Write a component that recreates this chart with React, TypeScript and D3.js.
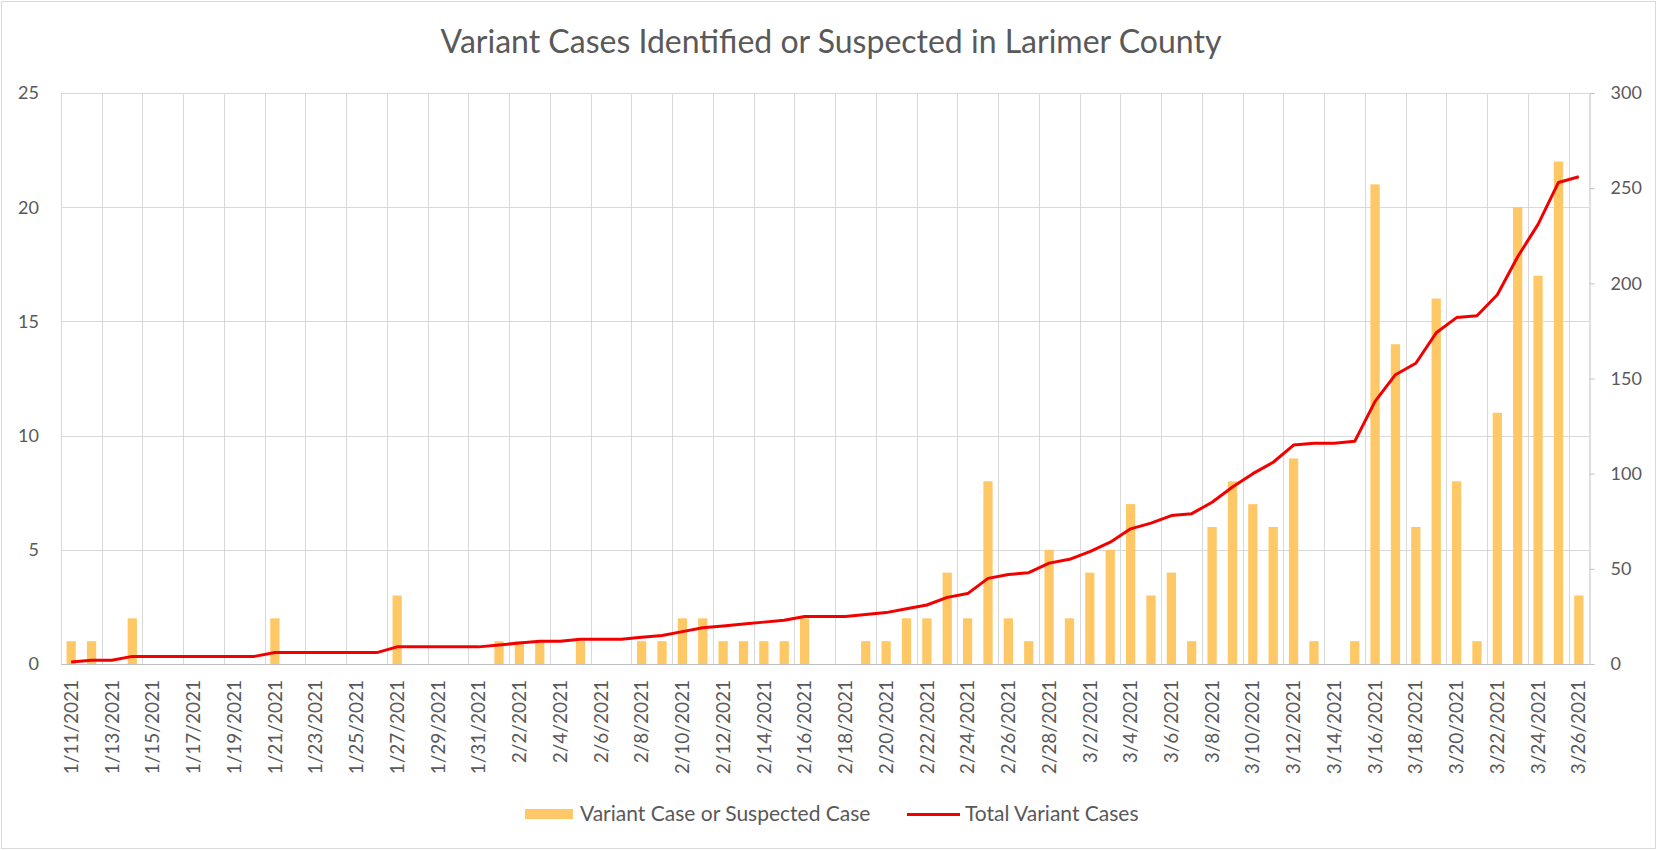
import React, { useEffect, useRef } from 'react';
import * as d3 from 'd3';

const dates = [
  '1/11/2021', '1/12/2021', '1/13/2021', '1/14/2021', '1/15/2021', '1/16/2021', '1/17/2021', '1/18/2021',
  '1/19/2021', '1/20/2021', '1/21/2021', '1/22/2021', '1/23/2021', '1/24/2021', '1/25/2021', '1/26/2021',
  '1/27/2021', '1/28/2021', '1/29/2021', '1/30/2021', '1/31/2021', '2/1/2021', '2/2/2021', '2/3/2021',
  '2/4/2021', '2/5/2021', '2/6/2021', '2/7/2021', '2/8/2021', '2/9/2021', '2/10/2021', '2/11/2021',
  '2/12/2021', '2/13/2021', '2/14/2021', '2/15/2021', '2/16/2021', '2/17/2021', '2/18/2021', '2/19/2021',
  '2/20/2021', '2/21/2021', '2/22/2021', '2/23/2021', '2/24/2021', '2/25/2021', '2/26/2021', '2/27/2021',
  '2/28/2021', '3/1/2021', '3/2/2021', '3/3/2021', '3/4/2021', '3/5/2021', '3/6/2021', '3/7/2021',
  '3/8/2021', '3/9/2021', '3/10/2021', '3/11/2021', '3/12/2021', '3/13/2021', '3/14/2021', '3/15/2021',
  '3/16/2021', '3/17/2021', '3/18/2021', '3/19/2021', '3/20/2021', '3/21/2021', '3/22/2021', '3/23/2021',
  '3/24/2021', '3/25/2021', '3/26/2021',
];

const dailyCases = [
  1, 1, 0, 2, 0, 0, 0, 0, 0, 0, 2, 0, 0, 0, 0, 0, 3, 0, 0, 0, 0,
  1, 1, 1, 0, 1, 0, 0, 1, 1, 2, 2, 1, 1, 1, 1, 2, 0, 0, 1, 1, 2, 2, 4, 2, 8, 2, 1, 5,
  2, 4, 5, 7, 3, 4, 1, 6, 8, 7, 6, 9, 1, 0, 1, 21, 14, 6, 16, 8, 1, 11, 20, 17, 22, 3,
];

const totalCases = [
  1, 2, 2, 4, 4, 4, 4, 4, 4, 4, 6, 6, 6, 6, 6, 6, 9, 9, 9, 9, 9,
  10, 11, 12, 12, 13, 13, 13, 14, 15, 17, 19, 20, 21, 22, 23, 25, 25, 25, 26, 27, 29, 31, 35, 37, 45, 47, 48, 53,
  55, 59, 64, 71, 74, 78, 79, 85, 93, 100, 106, 115, 116, 116, 117, 138, 152, 158, 174, 182, 183, 194, 214, 231, 253, 256,
];

const leftTicks = [0, 5, 10, 15, 20, 25];
const rightTicks = [0, 50, 100, 150, 200, 250, 300];

const title = 'Variant Cases Identified or Suspected in Larimer County';
const barName = 'Variant Case or Suspected Case';
const lineName = 'Total Variant Cases';

const W = 1657;
const H = 850;
const FONT = 'Lato, "Open Sans", sans-serif';
const TEXT = '#595959';
const GRID = '#d9d9d9';

export default function App() {
  const svgRef = useRef<SVGSVGElement>(null);

  useEffect(() => {
    const svg = d3.select(svgRef.current);
    svg.selectAll('*').remove();

    const left = 61, right = 1589, top = 93, bottom = 664;

    const x = d3.scaleBand<string>().domain(dates).range([left, right]).padding(0);
    const yL = d3.scaleLinear().domain([0, 25]).range([bottom, top]);
    const yR = d3.scaleLinear().domain([0, 300]).range([bottom, top]);
    const bw = x.bandwidth();
    const barW = bw / 2.2;

    svg.append('rect')
      .attr('x', 1.5).attr('y', 1.5)
      .attr('width', W - 3).attr('height', H - 3)
      .attr('fill', '#fff').attr('stroke', GRID);

    // title
    svg.append('text')
      .attr('x', 831).attr('y', 53)
      .attr('text-anchor', 'middle')
      .attr('font-family', FONT).attr('font-size', 32)
      .attr('fill', TEXT)
      .text(title);

    // horizontal gridlines
    svg.append('g').selectAll('line')
      .data(leftTicks.filter(d => d > 0))
      .enter().append('line')
      .attr('x1', left).attr('x2', right)
      .attr('y1', d => Math.round(yL(d)) + 0.5).attr('y2', d => Math.round(yL(d)) + 0.5)
      .attr('stroke', GRID);

    // vertical gridlines every second category
    svg.append('g').selectAll('line')
      .data(dates.filter((d, i) => i % 2 === 0))
      .enter().append('line')
      .attr('x1', d => Math.round(x(d)!) + 0.5).attr('x2', d => Math.round(x(d)!) + 0.5)
      .attr('y1', top).attr('y2', bottom)
      .attr('stroke', GRID);

    // bottom axis line
    svg.append('line')
      .attr('x1', left).attr('x2', right)
      .attr('y1', bottom + 0.5).attr('y2', bottom + 0.5)
      .attr('stroke', '#bfbfbf');

    // right axis
    const rAxis = svg.append('g')
      .attr('transform', `translate(${right + 0.5},0)`)
      .call(d3.axisRight(yR).tickValues(rightTicks).tickSize(5).tickPadding(16));
    rAxis.select('.domain').attr('stroke', '#bfbfbf');
    rAxis.selectAll('.tick line').attr('stroke', '#bfbfbf');
    rAxis.selectAll('.tick text')
      .attr('font-family', FONT).attr('font-size', 18).attr('fill', TEXT);

    // left axis labels
    svg.append('g').selectAll('text')
      .data(leftTicks)
      .enter().append('text')
      .attr('x', 39).attr('y', d => yL(d))
      .attr('dy', '0.35em')
      .attr('text-anchor', 'end')
      .attr('font-family', FONT).attr('font-size', 18)
      .attr('fill', TEXT)
      .text(d => d);

    // bars
    svg.append('g').selectAll('rect')
      .data(dailyCases)
      .enter().append('rect')
      .attr('x', (d, i) => x(dates[i])! + (bw - barW) / 2)
      .attr('y', d => yL(d))
      .attr('width', barW)
      .attr('height', d => bottom - yL(d))
      .attr('fill', '#ffc866');

    // cumulative line
    const line = d3.line<number>()
      .x((d, i) => x(dates[i])! + bw / 2)
      .y(d => yR(d));
    svg.append('path')
      .datum(totalCases)
      .attr('d', line)
      .attr('fill', 'none')
      .attr('stroke', '#f20000')
      .attr('stroke-width', 3)
      .attr('stroke-linejoin', 'round');

    // x labels, rotated
    svg.append('g').selectAll('text')
      .data(dates.filter((d, i) => i % 2 === 0))
      .enter().append('text')
      .attr('transform', d => `translate(${x(d)! + bw / 2},680) rotate(-90)`)
      .attr('dy', '0.35em')
      .attr('text-anchor', 'end')
      .attr('font-family', FONT).attr('font-size', 19)
      .attr('fill', TEXT)
      .text(d => d);

    // legend
    const lg = svg.append('g');
    lg.append('rect')
      .attr('x', 525).attr('y', 809).attr('width', 48).attr('height', 10)
      .attr('fill', '#ffc866');
    lg.append('text')
      .attr('x', 580).attr('y', 814).attr('dy', '0.35em')
      .attr('font-family', FONT).attr('font-size', 21).attr('fill', TEXT)
      .text(barName);
    lg.append('line')
      .attr('x1', 907).attr('x2', 960).attr('y1', 814.5).attr('y2', 814.5)
      .attr('stroke', '#f20000').attr('stroke-width', 3);
    lg.append('text')
      .attr('x', 965).attr('y', 814).attr('dy', '0.35em')
      .attr('font-family', FONT).attr('font-size', 21).attr('fill', TEXT)
      .text(lineName);
  }, []);

  return (
    <div style={{ position: 'absolute', left: 0, top: 0 }}>
      <svg ref={svgRef} width={W} height={H} style={{ display: 'block' }} />
    </div>
  );
}
